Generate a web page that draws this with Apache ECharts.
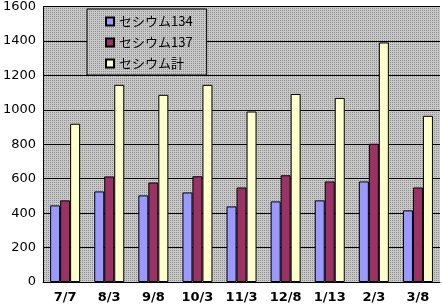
<!DOCTYPE html>
<html>
<head>
<meta charset="utf-8">
<script src="https://cdn.jsdelivr.net/npm/echarts@6/dist/echarts.min.js"></script>
<style>html,body{margin:0;padding:0;background:#fff;}#c{width:443px;height:308px;}</style>
</head>
<body>
<div id="c"></div>
<script>
var categories = ['7/7','8/3','9/8','10/3','11/3','12/8','1/13','2/3','3/8'];
var cs134 = [445, 526, 503, 520, 439, 468, 474, 584, 416];
var cs137 = [474, 613, 578, 614, 549, 620, 584, 803, 549];
var csTotal = [919, 1145, 1087, 1145, 990, 1092, 1069, 1391, 965];
var seriesNames = ['セシウム134', 'セシウム137', 'セシウム計'];
var yTicks = {min: 0, max: 1600, interval: 200};

var pc = document.createElement('canvas');
pc.width = 2; pc.height = 2;
var g = pc.getContext('2d');
g.fillStyle = '#c8c8c8'; g.fillRect(0,0,2,2);
g.fillStyle = '#909090'; g.fillRect(0,0,1,1);
var pattern = {image: pc, repeat: 'repeat'};

var chart = echarts.init(document.getElementById('c'), null, {renderer: 'canvas'});
var barBase = {type: 'bar', barWidth: 10, barGap: '0%', animation: false};
chart.setOption({
  animation: false,
  grid: {left: 42, right: 3, top: 6, bottom: 26, show: true, backgroundColor: pattern, borderWidth: 0, containLabel: false},
  legend: {
    orient: 'vertical', left: 87, top: 9, padding: [6, 14, 5, 18], itemGap: 8,
    itemWidth: 8, itemHeight: 8, icon: 'rect',
    backgroundColor: pattern, borderColor: '#000', borderWidth: 1,
    textStyle: {fontFamily: 'Noto Sans CJK JP', fontSize: 13, color: '#000'},
    data: seriesNames
  },
  xAxis: {
    type: 'category', data: categories,
    axisLine: {lineStyle: {color: '#000', width: 1}},
    axisTick: {inside: true, length: 4, lineStyle: {color: '#000'}},
    axisLabel: {fontFamily: 'DejaVu Sans', fontWeight: 'bold', fontSize: 13, color: '#000', margin: 9, interval: 0}
  },
  yAxis: {
    type: 'value', min: yTicks.min, max: yTicks.max, interval: yTicks.interval,
    axisLine: {show: true, lineStyle: {color: '#000', width: 1}},
    axisTick: {show: false},
    splitLine: {lineStyle: {color: '#000', width: 1}},
    axisLabel: {fontFamily: 'DejaVu Sans', fontSize: 13, color: '#000', margin: 7, formatter: function (v) { return String(v); }}
  },
  series: [
    Object.assign({}, barBase, {name: seriesNames[0], data: cs134, itemStyle: {color: '#9999ff', borderColor: '#000', borderWidth: 1}}),
    Object.assign({}, barBase, {name: seriesNames[1], data: cs137, itemStyle: {color: '#993366', borderColor: '#000', borderWidth: 1}}),
    Object.assign({}, barBase, {name: seriesNames[2], data: csTotal, itemStyle: {color: '#ffffcc', borderColor: '#000', borderWidth: 1}})
  ]
});
</script>
</body>
</html>
